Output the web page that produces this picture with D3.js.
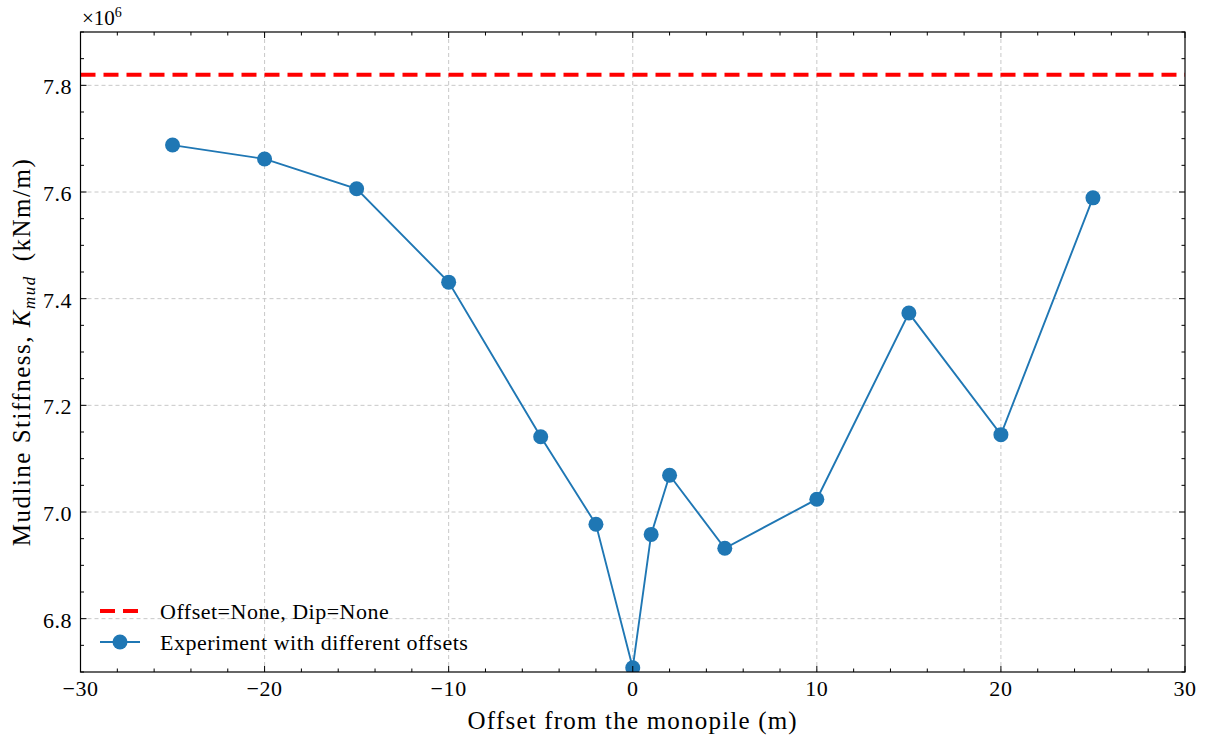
<!DOCTYPE html>
<html>
<head>
<meta charset="utf-8">
<script src="https://cdn.jsdelivr.net/npm/d3@7"></script>
<style>
  html, body { margin: 0; padding: 0; background: #fff; }
  svg { display: block; }
  text { font-family: "Liberation Serif", "DejaVu Serif", serif; fill: #000; }
</style>
</head>
<body>
<svg id="chart" width="1210" height="737"></svg>
<script>
// Offsets (m) and the mudline stiffness measured at each (×10^6 kNm/m)
const offsets = [-25, -20, -15, -10, -5, -2, 0, 1, 2, 5, 10, 15, 20, 25];
const stiffness = [7.688, 7.662, 7.606, 7.431, 7.141, 6.977, 6.708, 6.958, 7.069, 6.932, 7.024, 7.373, 7.145, 7.589];
// Reference case with no offset and no dip
const baselineStiffness = 7.82;
const xTicks = [-30, -20, -10, 0, 10, 20, 30];
const yTicks = [6.8, 7.0, 7.2, 7.4, 7.6, 7.8];
const legendLabels = ["Offset=None, Dip=None", "Experiment with different offsets"];

const m = { left: 80.5, right: 1185, top: 32, bottom: 672 };
const svg = d3.select("#chart");

const x = d3.scaleLinear().domain([-30, 30]).range([m.left, m.right]);
const y = d3.scaleLinear().domain([6.7, 7.9]).range([m.bottom, m.top]);

const fmtX = d => (d < 0 ? "\u2212" + Math.abs(d) : String(d));
const fmtY = d => d.toFixed(1);

// Grid
const grid = svg.append("g");
grid.selectAll("line.gx").data(xTicks.slice(1, -1)).join("line")
  .attr("x1", d => x(d)).attr("x2", d => x(d))
  .attr("y1", m.top).attr("y2", m.bottom)
  .attr("stroke", "#c8c8c8").attr("stroke-width", 1).attr("stroke-dasharray", "4,3");
grid.selectAll("line.gy").data(yTicks).join("line")
  .attr("x1", m.left).attr("x2", m.right)
  .attr("y1", d => y(d)).attr("y2", d => y(d))
  .attr("stroke", "#c8c8c8").attr("stroke-width", 1).attr("stroke-dasharray", "4,3");

// Clip for the data
svg.append("clipPath").attr("id", "plotclip").append("rect")
  .attr("x", m.left).attr("y", m.top).attr("width", m.right - m.left).attr("height", m.bottom - m.top);

const plot = svg.append("g").attr("clip-path", "url(#plotclip)");

// Baseline
plot.append("line")
  .attr("x1", x(-30)).attr("x2", x(30))
  .attr("y1", y(baselineStiffness)).attr("y2", y(baselineStiffness))
  .attr("stroke", "#ff0000").attr("stroke-width", 4).attr("stroke-dasharray", "15,8");

// Experiment series
const pts = offsets.map((o, i) => [o, stiffness[i]]);
plot.append("path").datum(pts)
  .attr("fill", "none").attr("stroke", "#1f77b4").attr("stroke-width", 1.9)
  .attr("d", d3.line().x(d => x(d[0])).y(d => y(d[1])));
plot.selectAll("circle").data(pts).join("circle")
  .attr("cx", d => x(d[0])).attr("cy", d => y(d[1])).attr("r", 7.5)
  .attr("fill", "#1f77b4");

// Axes with inward ticks on all four sides
const xMinor = d3.range(-30, 30.01, 2).filter(v => v % 10 !== 0);
const yMinor = d3.range(6.7, 7.901, 0.05).map(v => +v.toFixed(2)).filter(v => Math.abs(v * 5 - Math.round(v * 5)) > 1e-6);
const axG = svg.append("g").attr("stroke", "#000").attr("stroke-width", 1);
function ticks(vals, len, side) {
  vals.forEach(v => {
    if (side === "bottom") axG.append("line").attr("x1", x(v)).attr("x2", x(v)).attr("y1", m.bottom).attr("y2", m.bottom - len);
    if (side === "top") axG.append("line").attr("x1", x(v)).attr("x2", x(v)).attr("y1", m.top).attr("y2", m.top + len);
    if (side === "left") axG.append("line").attr("y1", y(v)).attr("y2", y(v)).attr("x1", m.left).attr("x2", m.left + len);
    if (side === "right") axG.append("line").attr("y1", y(v)).attr("y2", y(v)).attr("x1", m.right).attr("x2", m.right - len);
  });
}
ticks(xTicks, 6, "bottom"); ticks(xTicks, 6, "top");
ticks(xMinor, 3.5, "bottom"); ticks(xMinor, 3.5, "top");
ticks(yTicks, 6, "left"); ticks(yTicks, 6, "right");
ticks(yMinor, 3.5, "left"); ticks(yMinor, 3.5, "right");
svg.append("rect").attr("x", m.left).attr("y", m.top)
  .attr("width", m.right - m.left).attr("height", m.bottom - m.top)
  .attr("fill", "none").attr("stroke", "#000").attr("stroke-width", 1.2);

// Tick labels
svg.append("g").selectAll("text").data(xTicks).join("text")
  .attr("x", d => x(d)).attr("y", 696).attr("text-anchor", "middle")
  .attr("font-size", 22).attr("letter-spacing", 0.6).text(fmtX);
svg.append("g").selectAll("text").data(yTicks).join("text")
  .attr("x", 72).attr("y", d => y(d) + 9).attr("text-anchor", "end")
  .attr("font-size", 22).attr("letter-spacing", 0.5).text(fmtY);

// Multiplier
const mult = svg.append("text").attr("x", 82).attr("y", 25).attr("font-size", 21);
mult.append("tspan").text("\u00d710");
mult.append("tspan").attr("dy", -8).attr("font-size", 14).text("6");

// Axis titles
svg.append("text").attr("x", x(0)).attr("y", 729).attr("text-anchor", "middle")
  .attr("font-size", 25).attr("letter-spacing", 1.2).text("Offset from the monopile (m)");
const yl = svg.append("text").attr("transform", `translate(30,${(m.top + m.bottom) / 2}) rotate(-90)`)
  .attr("text-anchor", "middle").attr("font-size", 25).attr("letter-spacing", 1.5);
yl.append("tspan").text("Mudline Stiffness, ");
yl.append("tspan").attr("font-style", "italic").text("K");
yl.append("tspan").attr("font-style", "italic").attr("font-size", 17).attr("dy", 5).text("mud");
yl.append("tspan").attr("dy", -5).text("\u2002(kNm/m)");

// Legend
const lg = svg.append("g");
lg.append("line").attr("x1", 100).attr("x2", 140).attr("y1", 611).attr("y2", 611)
  .attr("stroke", "#ff0000").attr("stroke-width", 4).attr("stroke-dasharray", "15,8");
lg.append("line").attr("x1", 100).attr("x2", 140).attr("y1", 642).attr("y2", 642)
  .attr("stroke", "#1f77b4").attr("stroke-width", 1.9);
lg.append("circle").attr("cx", 120).attr("cy", 642).attr("r", 7.5).attr("fill", "#1f77b4");
lg.selectAll("text").data(legendLabels).join("text")
  .attr("x", 160).attr("y", (d, i) => 619 + i * 31).attr("font-size", 22)
  .attr("letter-spacing", 0.5).text(d => d);
</script>
</body>
</html>
